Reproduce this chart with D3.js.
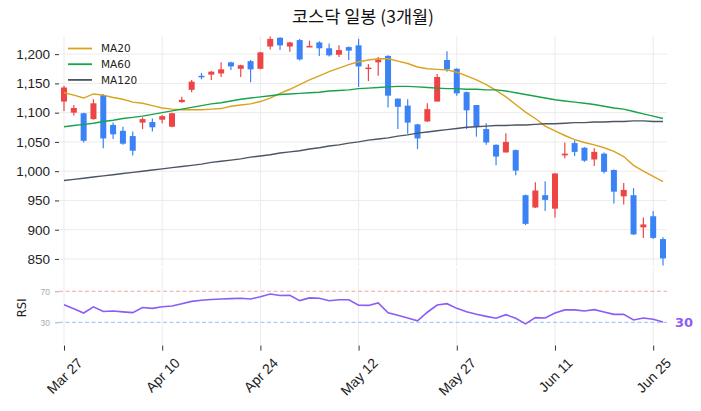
<!DOCTYPE html>
<html>
<head>
<meta charset="utf-8">
<script src="https://cdn.jsdelivr.net/npm/d3@7"></script>
<style>
  body { margin: 0; background: #fff; }
  svg { display: block; font-family: "DejaVu Sans", sans-serif; }
</style>
</head>
<body>
<svg id="chart" width="701" height="411"></svg>
<script>
// 일봉 OHLC (index 0 = Mar 27)
const opens  = [1119,1100,1099,1089,1130,1079,1069,1060,1083,1084,1088,1076,1118,1139,1163,1165,1167,1186,1175,1188,1175,1213,1228,1213,1224,1212,1220,1210,1199,1212,1215,1175,1186,1197,1124,1112,1080,1085,1119,1190,1175,1135,1113,1072,1045,1032,1036,959,938,959,936,1027,1048,1040,1020,1030,1002,957,959,904,923,884];
const highs  = [1146,1113,1100,1123,1132,1083,1076,1068,1092,1090,1096,1100,1127,1156,1168,1171,1186,1187,1182,1190,1204,1230,1229,1221,1226,1223,1222,1218,1215,1213,1226,1183,1195,1198,1124,1123,1081,1116,1166,1205,1176,1136,1113,1082,1046,1065,1037,960,981,983,997,1049,1053,1041,1039,1032,1003,980,971,921,932,887];
const lows   = [1103,1095,1049,1088,1039,1055,1045,1027,1072,1068,1082,1075,1117,1135,1157,1156,1161,1173,1161,1152,1174,1208,1207,1204,1189,1212,1197,1196,1195,1190,1144,1154,1163,1109,1072,1064,1038,1084,1119,1170,1129,1072,1059,1045,1010,1032,993,908,937,932,921,1022,1026,1016,1009,996,945,943,891,886,884,839];
const closes = [1143,1108,1052,1116,1056,1063,1047,1035,1089,1075,1094,1099,1122,1153,1162,1170,1174,1179,1181,1174,1203,1226,1215,1220,1191,1214,1210,1198,1207,1206,1179,1177,1191,1129,1110,1083,1056,1106,1161,1174,1133,1104,1076,1049,1025,1050,1001,910,967,951,996,1030,1033,1018,1033,999,965,968,892,909,886,851];

// 이동평균
const ma20  = [1134,1130,1125,1132,1130,1126,1123,1118,1116,1112,1108,1106,1105,1105,1105,1106,1107,1111,1113,1115,1119,1125,1133,1140,1148,1156,1163,1170,1176,1182,1187,1190,1192,1192,1188,1184,1178,1175,1174,1173,1169,1163,1156,1148,1138,1127,1114,1101,1090,1077,1069,1061,1054,1049,1045,1040,1034,1025,1010,1000,991,982];
const ma60  = [1076,1078,1080,1082,1085,1087,1090,1092,1094,1097,1100,1103,1106,1109,1112,1115,1117,1120,1123,1125,1127,1129,1131,1132,1133,1134,1135,1137,1138,1139,1141,1142,1143,1144,1145,1145,1144,1143,1142,1141,1141,1140,1140,1139,1139,1137,1134,1131,1128,1125,1122,1120,1118,1116,1114,1111,1108,1106,1102,1098,1094,1090];
const ma120 = [984,986,988,990,992,994,996,998,1000,1002,1004,1006,1008,1010,1012,1015,1017,1019,1021,1024,1026,1028,1031,1033,1035,1038,1040,1043,1045,1048,1050,1053,1055,1057,1060,1062,1065,1067,1069,1071,1073,1075,1076,1077,1078,1078,1079,1079,1080,1081,1081,1082,1083,1083,1084,1084,1085,1085,1086,1086,1085,1085];

// RSI(14)
const rsi = [52.5,47.5,42,50,44,44.5,43.5,42.5,49,48,50,51,54,57,58.5,59.5,60,60.5,61,60,63,66.5,64.5,64.8,58,61.5,61,57.8,59,59,52,51.8,55,42.4,39,35.5,32,43,52.3,54,48,43.5,40.3,37.7,35.2,39.8,35.2,28,36,35.5,42,46,46,44.6,46.3,43.3,40.3,40.3,33,35.5,34,30.3];

const tickIdx    = [0,10,20,30,40,50,60];
const tickLabels = ["Mar 27","Apr 10","Apr 24","May 12","May 27","Jun 11","Jun 25"];
const priceTicks = [850,900,950,1000,1050,1100,1150,1200];
const rsiTicks   = [30,70];

const svg = d3.select("#chart");
const left = 59, right = 667;
const priceTop = 36, priceBottom = 266;
const rsiTop = 268, rsiBottom = 345.6;

const x  = d3.scaleLinear().domain([0, 61]).range([64, 663]);
const y  = d3.scaleLinear().domain([838, 1231]).range([priceBottom, priceTop]);
const yr = d3.scaleLinear().domain([0, 100]).range([rsiBottom, rsiTop]);

const UP = "#ef4444", DOWN = "#3b82f6", GRID = "#ebebeb";

// 제목
svg.append("text")
  .attr("x", 363).attr("y", 23)
  .attr("text-anchor", "middle")
  .style("font-family", "'Noto Sans CJK KR', 'DejaVu Sans', sans-serif")
  .style("font-size", "17.5px")
  .attr("fill", "#111")
  .text("코스닥 일봉 (3개월)");

// 격자
const grid = svg.append("g");
grid.selectAll(".hg").data(priceTicks).enter().append("line")
  .attr("x1", left).attr("x2", right)
  .attr("y1", d => y(d)).attr("y2", d => y(d))
  .attr("stroke", GRID);
[[priceTop, priceBottom], [rsiTop, rsiBottom]].forEach(([t, b]) => {
  grid.selectAll(null).data(tickIdx).enter().append("line")
    .attr("x1", d => x(d)).attr("x2", d => x(d))
    .attr("y1", t).attr("y2", b)
    .attr("stroke", GRID);
});

// y축 (가격)
const yAxis = svg.append("g")
  .attr("transform", `translate(${left},0)`)
  .call(d3.axisLeft(y).tickValues(priceTicks).tickFormat(d3.format(",")).tickSize(4).tickPadding(5));
yAxis.select(".domain").remove();
yAxis.selectAll("text").style("font-size", "13.5px").attr("fill", "#222");
yAxis.selectAll("line").attr("stroke", "#333");

// 캔들
const idx = d3.range(closes.length);
const candles = svg.append("g");
candles.selectAll(".wick").data(idx).enter().append("line")
  .attr("x1", i => x(i)).attr("x2", i => x(i))
  .attr("y1", i => y(highs[i])).attr("y2", i => y(lows[i]))
  .attr("stroke", i => closes[i] >= opens[i] ? UP : DOWN)
  .attr("stroke-width", 1.2);
candles.selectAll(".body").data(idx).enter().append("rect")
  .attr("x", i => x(i) - 3)
  .attr("width", 6)
  .attr("y", i => y(Math.max(opens[i], closes[i])))
  .attr("height", i => Math.max(1.5, Math.abs(y(opens[i]) - y(closes[i]))))
  .attr("fill", i => closes[i] >= opens[i] ? UP : DOWN);

// 이동평균선
const maSeries = [
  { name: "MA20",  values: ma20,  color: "#dba21e" },
  { name: "MA60",  values: ma60,  color: "#16a34a" },
  { name: "MA120", values: ma120, color: "#4b5563" }
];
const line = d3.line().x((d, i) => x(i)).y(d => y(d));
maSeries.forEach(s => {
  svg.append("path")
    .attr("d", line(s.values))
    .attr("fill", "none")
    .attr("stroke", s.color)
    .attr("stroke-width", 1.4);
});

// 범례
const legend = svg.append("g").attr("transform", "translate(68,48.5)");
maSeries.forEach((s, k) => {
  const g = legend.append("g").attr("transform", `translate(0,${k * 15.7})`);
  g.append("line").attr("x1", 0).attr("x2", 24).attr("stroke", s.color).attr("stroke-width", 1.8);
  g.append("text").attr("x", 33).attr("dy", "0.35em")
    .style("font-size", "10.5px").attr("fill", "#222").text(s.name);
});

// RSI 패널
svg.append("line").attr("x1", left).attr("x2", right)
  .attr("y1", yr(70)).attr("y2", yr(70))
  .attr("stroke", "#f2a5a5").attr("stroke-dasharray", "4,2.5");
svg.append("line").attr("x1", left).attr("x2", right)
  .attr("y1", yr(30)).attr("y2", yr(30))
  .attr("stroke", "#8fc1f7").attr("stroke-dasharray", "4,2.5");

const rAxis = svg.append("g")
  .attr("transform", `translate(${left},0)`)
  .call(d3.axisLeft(yr).tickValues(rsiTicks).tickSize(4).tickPadding(5));
rAxis.select(".domain").remove();
rAxis.selectAll("text").style("font-size", "8.5px").attr("fill", "#aaa");
rAxis.selectAll("line").attr("stroke", "#aaa");

svg.append("text")
  .attr("transform", `translate(26,${(rsiTop + rsiBottom) / 2 + 1}) rotate(-90)`)
  .attr("text-anchor", "middle")
  .style("font-size", "11.5px").attr("fill", "#222")
  .text("RSI");

svg.append("path")
  .attr("d", d3.line().x((d, i) => x(i)).y(d => yr(d))(rsi))
  .attr("fill", "none")
  .attr("stroke", "#8b5cf6")
  .attr("stroke-width", 1.6);

svg.append("text")
  .attr("x", 675).attr("y", yr(rsi[rsi.length - 1]))
  .attr("dy", "0.35em")
  .style("font-size", "13px").style("font-weight", "bold")
  .attr("fill", "#8b5cf6")
  .text(Math.round(rsi[rsi.length - 1]));

// x축
const xAxis = svg.append("g")
  .attr("transform", `translate(0,${rsiBottom})`)
  .call(d3.axisBottom(x).tickValues(tickIdx).tickFormat((d, k) => tickLabels[k]).tickSize(5));
xAxis.select(".domain").remove();
xAxis.selectAll("line").attr("stroke", "#333");
xAxis.selectAll("text")
  .style("font-size", "14px").attr("fill", "#222")
  .attr("y", 0).attr("dy", null)
  .attr("text-anchor", "middle")
  .attr("dominant-baseline", "central")
  .attr("transform", function () {
    const w = this.getComputedTextLength();
    const h = (w + 11) * Math.SQRT1_2;
    return `translate(0,${11 + h / 2}) rotate(-45)`;
  });
</script>
</body>
</html>
